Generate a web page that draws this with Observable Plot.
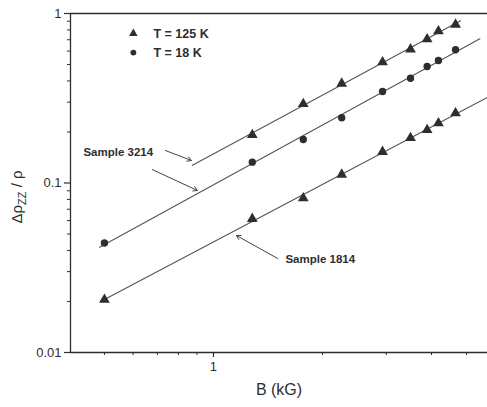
<!DOCTYPE html>
<html><head><meta charset="utf-8">
<script src="https://cdn.jsdelivr.net/npm/d3@7"></script>
<script src="https://cdn.jsdelivr.net/npm/@observablehq/plot@0.6"></script>
<style>
body{margin:0;background:#fff}
#chart svg{display:block}
</style>
</head><body><div id="chart"></div>
<script>
// ---- data ----
const B = [0.5, 1.28, 1.77, 2.26, 2.93, 3.5, 3.89, 4.18, 4.66];           // kG
const s3214_125K = [null, 0.192, 0.293, 0.386, 0.516, 0.615, 0.705, 0.786, 0.861];
const s3214_18K  = [0.0443, 0.1327, 0.1806, 0.2427, 0.3466, 0.415, 0.487, 0.528, 0.611];
const s1814_125K = [0.0205, 0.0615, 0.0813, 0.1122, 0.1528, 0.1843, 0.2055, 0.2253, 0.258];
const fitNames = ["3214 125K", "3214 18K", "1814 125K"];
const fitFrom = [0.875, 0.485, 0.5];
const fitTo   = [4.81, 5.44, 5.8];
const xDomain = [0.403, 5.71];
const yDomain = [0.01, 1];
const xMajor = [1];
const xMinor = [0.5, 0.6, 0.7, 0.8, 0.9, 2, 3, 4, 5];
const yMajor = [0.01, 0.1, 1];
const yMinor = [0.02,0.03,0.04,0.05,0.06,0.07,0.08,0.09,0.2,0.3,0.4,0.5,0.6,0.7,0.8,0.9];
const legendLabels = ["T = 125 K", "T = 18 K"];
const legendSymbols = ["triangle", "circle"];
const legendB = [0.601, 0.601];
const legendTextB = [0.683, 0.683];
const legendV = [0.762, 0.588];
const annoLabels = ["Sample 3214", "Sample 1814"];
const annoB = [0.4375, 1.58];
const annoV = [0.151, 0.0354];
const arrowFromB = [0.737, 0.678, 1.503];
const arrowFromV = [0.1555, 0.120, 0.0359];
const arrowToB   = [0.869, 0.903, 1.157];
const arrowToV   = [0.1358, 0.0903, 0.049];
const xLabel = "B (kG)";

// ---- build tables ----
const series = [s3214_125K, s3214_18K, s1814_125K];
const symbols = ["triangle", "circle", "triangle"];
const points = [];
series.forEach((vals, k) => B.forEach((b, i) => {
  if (vals[i] != null) points.push({B: b, v: vals[i], sym: symbols[k]});
}));
function fit(vals, from, to, name) {
  const p = B.map((b, i) => [Math.log10(b), vals[i]]).filter(d => d[1] != null).map(d => [d[0], Math.log10(d[1])]);
  const mx = d3.mean(p, d => d[0]), my = d3.mean(p, d => d[1]);
  const slope = d3.sum(p, d => (d[0]-mx)*(d[1]-my)) / d3.sum(p, d => (d[0]-mx)**2);
  const a = my - slope*mx;
  return [from, to].map(b => ({B: b, v: 10 ** (a + slope*Math.log10(b)), name}));
}
const fits = series.flatMap((vals, k) => fit(vals, fitFrom[k], fitTo[k], fitNames[k]));
const legend = legendLabels.map((t, i) => ({t, sym: legendSymbols[i], b: legendB[i], tb: legendTextB[i], v: legendV[i]}));
const annos = annoLabels.map((t, i) => ({t, b: annoB[i], v: annoV[i]}));
const arrows = arrowFromB.map((b, i) => ({x1: b, y1: arrowFromV[i], x2: arrowToB[i], y2: arrowToV[i]}));

const ink = "#2e2e2e";
const chart = Plot.plot({
  width: 487, height: 407,
  marginLeft: 70, marginTop: 13, marginBottom: 55, marginRight: 0,
  style: {fontFamily: "'Liberation Sans', Arial, sans-serif", background: "#fff", color: ink},
  x: {type: "log", domain: xDomain},
  y: {type: "log", domain: yDomain},
  symbol: {domain: ["triangle", "circle"], range: ["triangle", "circle"]},
  marks: [
    Plot.axisY({ticks: yMajor, tickSize: 6, tickPadding: 3, fontSize: 13, tickFormat: d => String(d), label: null, strokeWidth: 1.2}),
    Plot.axisY({ticks: yMinor, tickSize: 3, tickFormat: () => "", label: null}),
    Plot.axisX({ticks: xMajor, tickSize: 5, tickPadding: 4, fontSize: 13, tickFormat: d => String(d), label: null, strokeWidth: 1.2}),
    Plot.axisX({ticks: xMinor, tickSize: 3, tickFormat: () => "", label: null}),
    Plot.ruleX([xDomain[0]], {stroke: ink, strokeWidth: 1.3}),
    Plot.ruleY(yDomain, {stroke: ink, strokeWidth: 1.3}),
    Plot.line(fits, {x: "B", y: "v", z: "name", stroke: "#555", strokeWidth: 1.1}),
    Plot.dot(points.filter(d => d.sym === "triangle"), {x: "B", y: "v", symbol: "sym", r: 4.0, fill: ink, stroke: "none"}),
    Plot.dot(points.filter(d => d.sym === "circle"), {x: "B", y: "v", symbol: "sym", r: 3.7, fill: ink, stroke: "none"}),
    Plot.dot(legend, {x: "b", y: "v", symbol: "sym", r: d => d.sym === "circle" ? 3.2 : 3.8, fill: ink, stroke: "none"}),
    Plot.text(legend, {x: "tb", y: "v", text: "t", textAnchor: "start", fontSize: 12.5, fontWeight: "bold", fill: ink}),
    Plot.text(annos, {x: "b", y: "v", text: "t", textAnchor: "start", fontSize: 11.5, fontWeight: "bold", fill: ink}),
    Plot.arrow(arrows, {x1: "x1", y1: "y1", x2: "x2", y2: "y2", stroke: "#444", strokeWidth: 1, headLength: 7}),
    Plot.text([xLabel], {frameAnchor: "bottom", dy: 42, fontSize: 16, fill: ink})
  ]
});
document.getElementById("chart").append(chart);

// y-axis label with subscript
const svg = d3.select(chart);
const yl = svg.append("text")
  .attr("transform", "translate(22,197) rotate(-90)")
  .attr("text-anchor", "middle")
  .attr("font-size", 15)
  .attr("font-family", "'Liberation Sans', Arial, sans-serif")
  .attr("fill", ink);
yl.append("tspan").text("Δρ");
yl.append("tspan").attr("font-size", 11).attr("dy", 4).text("ZZ");
yl.append("tspan").attr("dy", -4).text(" / ρ");
</script>
</body></html>
